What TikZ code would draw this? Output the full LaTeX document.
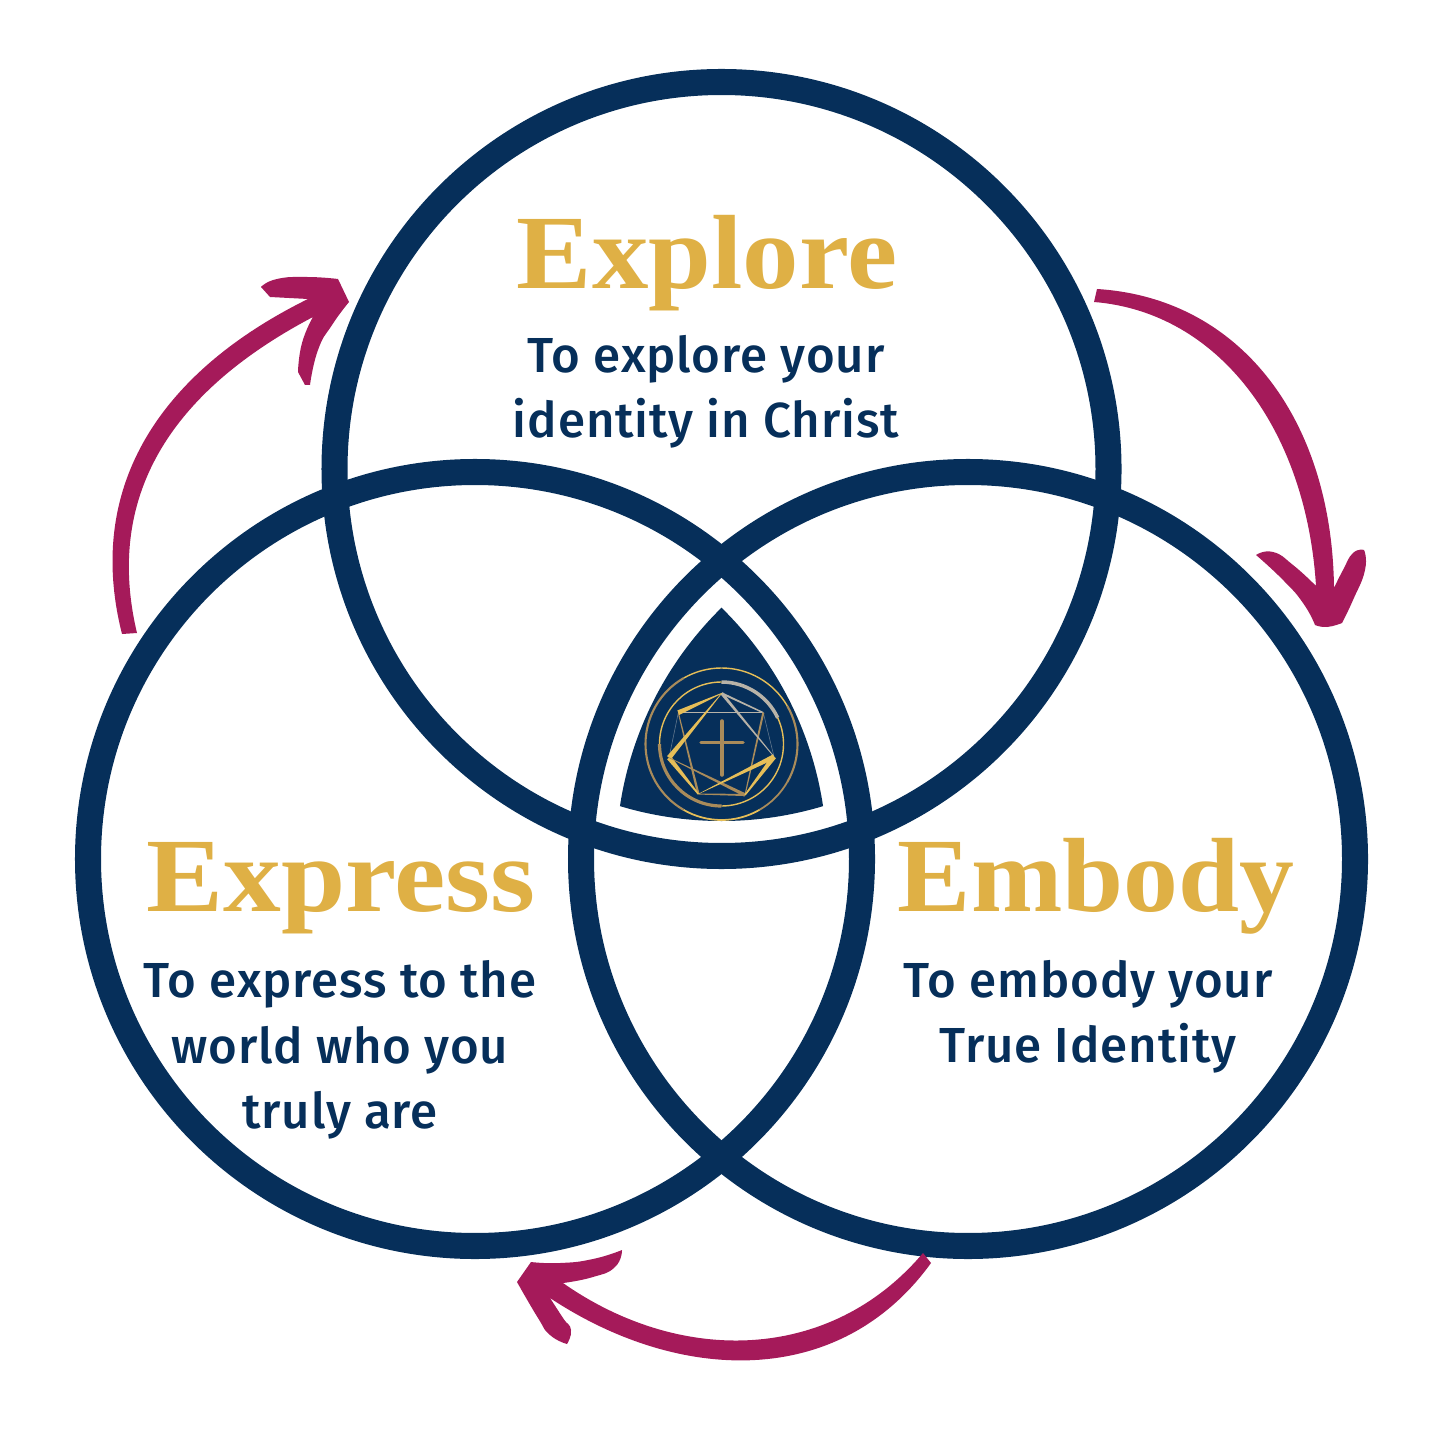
\documentclass[tikz,border=0pt]{standalone}
\usepackage{fontspec}
\setmainfont{Liberation Serif}
\newfontfamily\bodyfont[LetterSpace=1.8]{Fira Sans Medium}
\usetikzlibrary{calc}
\definecolor{navy}{HTML}{062F5A}
\definecolor{titlegold}{HTML}{DFB045}
\definecolor{crimson}{HTML}{A51A5A}
\definecolor{logogold}{HTML}{E6BE58}
\definecolor{logotan}{HTML}{A98B5A}
\definecolor{logogrey}{HTML}{B8B3A8}
\definecolor{logoblue}{HTML}{64798F}
\tikzset{
    ringline/.style={draw=navy, line width=7.4pt},
    titletext/.style={text=titlegold, font=\fontsize{30}{30}\selectfont\bfseries, inner sep=0pt},
    bodytext/.style={text=navy, font=\fontsize{14}{18.6}\bodyfont, align=center, inner sep=0pt},
    arrowfill/.style={fill=crimson},
    edge/.style={smooth, tension=.9},
}
\newcommand{\logoline}[5]{\fill[#5] ($(#1)!#3pt!90:(#2)$) -- ($(#1)!#3pt!-90:(#2)$) -- ($(#2)!#4pt!90:(#1)$) -- ($(#2)!#4pt!-90:(#1)$) -- cycle;}
\begin{document}
\begin{tikzpicture}[x=0.01cm, y=-0.01cm]
    \useasboundingbox (0,0) rectangle (1440,1440);
    \coordinate (T) at (721.5,469);
    \coordinate (L) at (475,859);
    \coordinate (R) at (968,859);
    % the three rings
    \foreach \c in {T,L,R}
        \draw[ringline] (\c) circle (387);
    % centre piece
    \begin{scope}
        \clip (T) circle (352);
        \clip (L) circle (352);
        \fill[navy] (R) circle (352);
    \end{scope}
    % logo
    \coordinate (C) at (721.5,744);
    \foreach \s/\e/\w/\col in {-90/-30/.4/logogold, -30/30/.6/logotan, 30/60/.5/logotan, 60/120/.5/logogold, 120/180/.6/logotan, 180/240/.6/logotan, 240/270/.4/logogold}
        \draw[\col, line width=\w pt] ($(C)+(\s:76)$) arc[start angle=\s, end angle=\e, radius=76];
    \foreach \s/\e/\w/\col in {-90/-25/1/logogrey, -25/90/.4/logogold, 90/180/.9/logotan, 180/270/.4/logogold}
        \draw[\col, line width=\w pt] ($(C)+(\s:62)$) arc[start angle=\s, end angle=\e, radius=62];
    \coordinate (h1) at (721.7,693.3);
    \coordinate (h2) at (763.3,712.7);
    \coordinate (h3) at (774,756.7);
    \coordinate (h4) at (745,795);
    \coordinate (h5) at (698.3,794);
    \coordinate (h6) at (669,757.7);
    \coordinate (h7) at (678.3,712.7);
    \foreach \a/\b/\wa/\wb/\col in {h7/h6/.08/.08/logoblue, h2/h3/.08/.08/logoblue, h7/h2/.2/.2/logogrey, h5/h4/.15/.3/logotan,
        h1/h2/.3/.2/logogrey, h2/h4/.3/.15/logotan, h7/h5/.15/.35/logotan, h1/h3/.45/.1/logogrey,
        h1/h7/.1/.7/logogold, h6/h1/.7/.08/logogold, h6/h5/.7/.2/logogold, h4/h6/.5/.08/logotan,
        h3/h5/.7/.04/logogold, h3/h4/.7/.2/logogold}
        \logoline{\a}{\b}{\wa}{\wb}{\col};
    \draw[logotan, line width=1pt, line cap=round] (722,721) -- (722,775);
    \draw[logotan, line width=1pt, line cap=round] (701,742.5) -- (743,742.5);
    % arrows
    \fill[arrowfill] (122,634) .. controls (83,480) and (168,368) .. (308,299)
        -- (270,297) -- (261,287)
        -- plot[edge] coordinates {(261,287) (277,279) (307,277) (338,279)}
        -- (349,302)
        -- plot[edge] coordinates {(349,302) (332,325) (318,350) (310,385)}
        -- (305,385) -- (298,372)
        -- plot[edge] coordinates {(298,372) (302,343) (313,317)}
        .. controls (178,388) and (103,490) .. (137,633)
        -- cycle;
    \fill[arrowfill] (1097,289) .. controls (1241,298) and (1332,420) .. (1334,588)
        -- plot[edge] coordinates {(1334,588) (1343,570) (1353,553) (1364,550)}
        -- plot[edge] coordinates {(1364,550) (1365,570) (1353,600) (1342,623)}
        -- plot[edge] coordinates {(1342,623) (1327,627) (1315,625)}
        -- plot[edge] coordinates {(1315,625) (1303,603) (1283,580) (1256,555)}
        -- plot[edge] coordinates {(1256,555) (1273,552) (1293,565) (1316,586)}
        .. controls (1306,428) and (1218,312) .. (1094,302)
        -- cycle;
    \fill[arrowfill] (931,1263) .. controls (840,1389) and (680,1384) .. (550,1298)
        -- plot[edge] coordinates {(550,1298) (563,1318) (571,1330) (567,1344)}
        -- plot[edge] coordinates {(567,1344) (550,1335) (538,1318) (517,1282)}
        -- (531,1262)
        -- plot[edge] coordinates {(531,1262) (560,1263) (593,1259) (622,1250)}
        -- plot[edge] coordinates {(622,1250) (615,1267) (593,1277) (563,1283)}
        .. controls (680,1365) and (830,1363) .. (923,1253)
        -- cycle;
    % labels
    \node[titletext, anchor=base, xscale=1.07] (explore) at (707,289) {Explore};
    \node[titletext, anchor=base, xscale=1.095] (express) at (341,911) {Express};
    \node[titletext, anchor=base, xscale=1.04] (embody) at (1096,911) {Embody};
    \node[bodytext] (exploretext) at (706,392) {To explore your\\identity in Christ};
    \node[bodytext] (expresstext) at (340,1050) {To express to the\\world who you\\truly are};
    \node[bodytext] (embodytext) at (1088,1017) {To embody your\\True Identity};
\end{tikzpicture}
\end{document}
